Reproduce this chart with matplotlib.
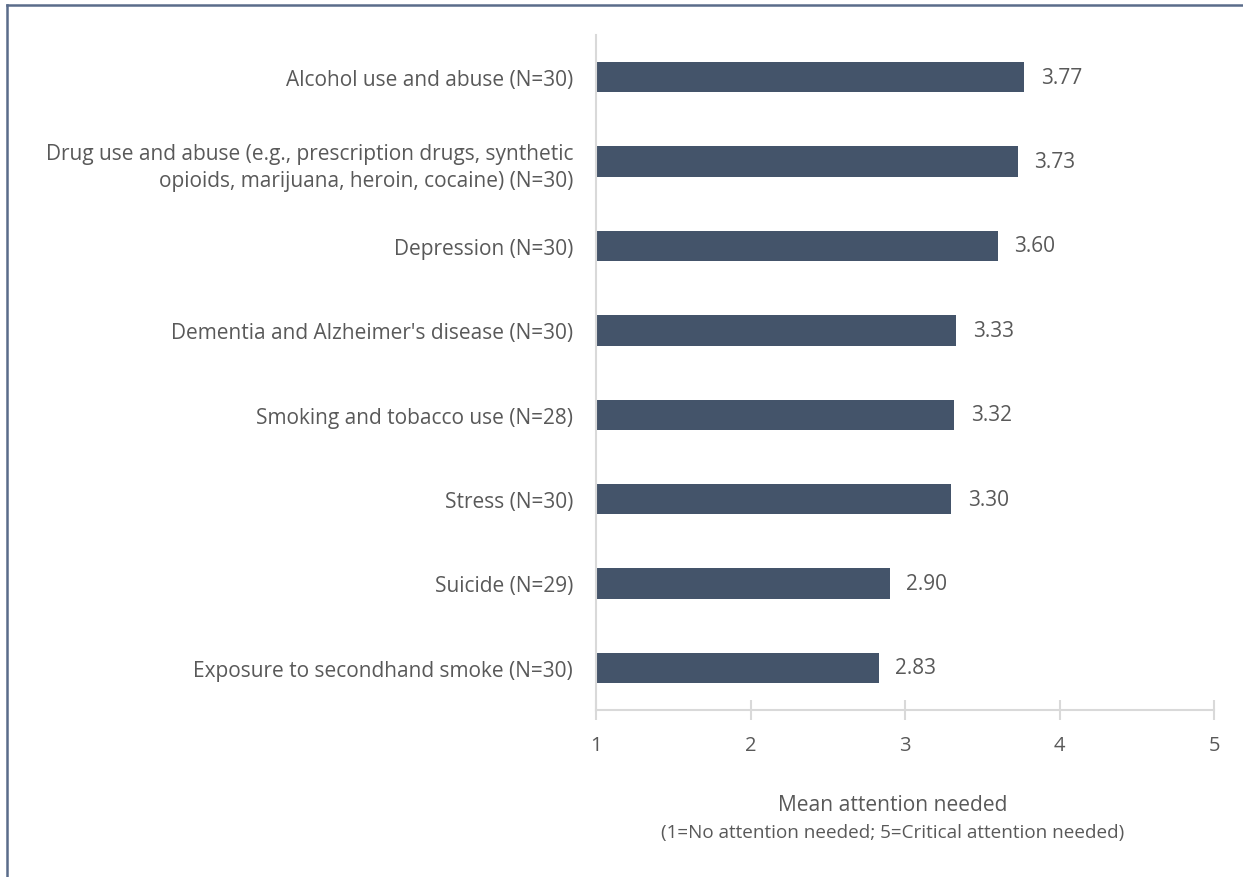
import matplotlib.pyplot as plt
from matplotlib.lines import Line2D

plt.rcParams['font.family'] = ['Open Sans', 'DejaVu Sans']

topics = [
    "Alcohol use and abuse (N=30)",
    "Drug use and abuse (e.g., prescription drugs, synthetic\nopioids, marijuana, heroin, cocaine) (N=30)",
    "Depression (N=30)",
    "Dementia and Alzheimer's disease (N=30)",
    "Smoking and tobacco use (N=28)",
    "Stress (N=30)",
    "Suicide (N=29)",
    "Exposure to secondhand smoke (N=30)",
]
means = [3.77, 3.73, 3.60, 3.33, 3.32, 3.30, 2.90, 2.83]
xticks = [1, 2, 3, 4, 5]

bar_color = "#44546A"
text_color = "#595959"
axis_color = "#D9D9D9"

fig = plt.figure(figsize=(12.43, 8.78), dpi=100)
ax = fig.add_axes([0.4795, 0.1902, 0.4972, 0.7688])

pos = list(range(len(topics)))
ax.barh(pos, [m - 1 for m in means], left=1, height=0.36, color=bar_color)
for p, m in zip(pos, means):
    ax.annotate(f"{m:.2f}", (m, p), xytext=(12, 0), textcoords="offset points",
                va="center", ha="left", fontsize=15, color=text_color)

ax.set_xlim(1, 5)
ax.set_ylim(len(topics) - 0.5, -0.5)
ax.set_yticks(pos)
ax.set_yticklabels(topics, fontsize=15, color=text_color, linespacing=1.4)
ax.set_xticks(xticks)
ax.set_xticklabels([str(t) for t in xticks], fontsize=14.5, color=text_color)

for side in ["top", "right"]:
    ax.spines[side].set_visible(False)
for side in ["left", "bottom"]:
    ax.spines[side].set_color(axis_color)
    ax.spines[side].set_linewidth(1.5)
ax.tick_params(axis="y", length=0, pad=16.5)
ax.tick_params(axis="x", direction="inout", length=14, width=1.5,
               color=axis_color, pad=11)

fig.text(0.7184, 0.0831, "Mean attention needed", ha="center", va="center",
         fontsize=15.1, color=text_color)
fig.text(0.7184, 0.0513, "(1=No attention needed; 5=Critical attention needed)",
         ha="center", va="center", fontsize=13.6, color=text_color)

# outer frame, only the top and left edges show
fig.add_artist(Line2D([0.0058, 0.0058], [0, 0.9935], transform=fig.transFigure,
                      color="#5A6C8A", linewidth=1.8))
fig.add_artist(Line2D([0.0058, 1], [0.9935, 0.9935], transform=fig.transFigure,
                      color="#5A6C8A", linewidth=1.8))

fig.savefig("out.png", dpi=100)
